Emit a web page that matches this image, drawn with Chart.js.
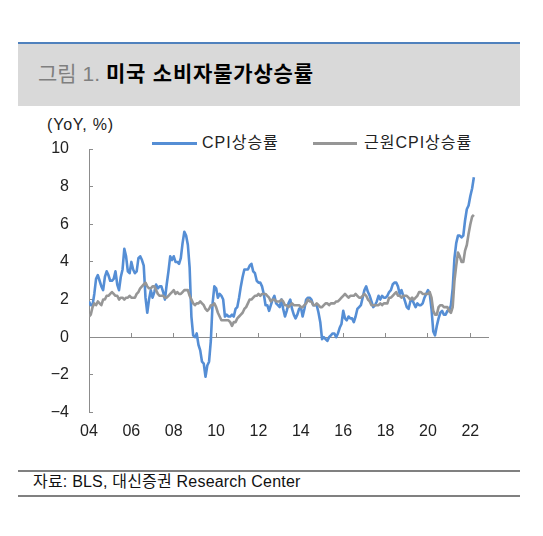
<!DOCTYPE html>
<html lang="ko">
<head>
<meta charset="utf-8">
<title>미국 소비자물가상승률</title>
<script src="https://cdn.jsdelivr.net/npm/chart.js@4.4.1/dist/chart.umd.min.js"></script>
<style>
  body { margin: 0; background: #fff; font-family: 'Liberation Sans', 'Noto Sans CJK KR', sans-serif; }
  .page { position: relative; width: 543px; height: 536px; overflow: hidden; }
  .topline { position: absolute; left: 18px; top: 42px; width: 502px; height: 2px; background: #4f81bd; }
  .band { position: absolute; left: 18px; top: 44px; width: 502px; height: 62px; background: #d9d9d9; }
  .title { position: absolute; left: 38px; top: 60px; font-size: 21px; line-height: 28px; white-space: nowrap; }
  .title .fig { color: #7f7f7f; }
  .title b { color: #000; margin-left: 6px; letter-spacing: 0.8px; }
  .unit { position: absolute; left: 47px; top: 115px; font-size: 16px; line-height: 20px; color: #222; letter-spacing: 0.8px; }
  .legend { position: absolute; top: 133px; left: 0; font-size: 16px; line-height: 20px; color: #222; }
  .legend span { position: absolute; white-space: nowrap; letter-spacing: 1px; }
  .legend i { position: absolute; height: 3px; top: 9px; }
  .chartbox { position: absolute; left: 0; top: 129px; width: 543px; height: 321px; }
  .srcline { position: absolute; left: 18px; width: 502px; height: 2px; background: #808080; }
  .source { position: absolute; left: 33px; top: 471px; font-size: 16px; line-height: 22px; color: #111; white-space: nowrap; letter-spacing: 0.2px; }
</style>
</head>
<body>
<div class="page">
  <div class="topline"></div>
  <div class="band"></div>
  <div class="title"><span class="fig">그림 1.</span><b>미국 소비자물가상승률</b></div>

  <div class="unit">(YoY, %)</div>
  <div class="legend">
    <i style="left:152px; width:45px; background:#558ed5;"></i>
    <span style="left:202px;">CPI상승률</span>
    <i style="left:313px; width:44px; background:#969696;"></i>
    <span style="left:364px;">근원CPI상승률</span>
  </div>

  <div class="chartbox"><canvas id="cpiChart"></canvas></div>

  <div class="srcline" style="top:470px;"></div>
  <div class="source">자료: BLS, 대신증권 Research Center</div>
  <div class="srcline" style="top:495px;"></div>
</div>

<script>
// 월별 전년동월비 (%), 2004.01 ~ 2022.03
const cpiYoY = [
  1.9, 1.7, 1.7, 2.3, 3.1, 3.3, 3.0, 2.7, 2.5, 3.2, 3.5, 3.3,    // 2004
  3.0, 3.0, 3.1, 3.5, 2.8, 2.5, 3.2, 3.6, 4.7, 4.3, 3.5, 3.4,    // 2005
  4.0, 3.6, 3.4, 3.5, 4.2, 4.3, 4.1, 3.8, 2.1, 1.3, 2.0, 2.5,    // 2006
  2.1, 2.4, 2.8, 2.6, 2.7, 2.7, 2.4, 2.0, 2.8, 3.5, 4.3, 4.1,    // 2007
  4.3, 4.0, 4.0, 3.9, 4.2, 5.0, 5.6, 5.4, 4.9, 3.7, 1.1, 0.1,    // 2008
  0.0, 0.2, -0.4, -0.7, -1.3, -1.4, -2.1, -1.5, -1.3, -0.2, 1.8, 2.7, // 2009
  2.6, 2.1, 2.3, 2.2, 2.0, 1.1, 1.2, 1.1, 1.1, 1.2, 1.1, 1.5,    // 2010
  1.6, 2.1, 2.7, 3.2, 3.6, 3.6, 3.6, 3.8, 3.9, 3.5, 3.4, 3.0,    // 2011
  2.9, 2.9, 2.7, 2.3, 1.7, 1.7, 1.4, 1.7, 2.0, 2.2, 1.8, 1.7,    // 2012
  1.6, 2.0, 1.5, 1.1, 1.4, 1.8, 2.0, 1.5, 1.2, 1.0, 1.2, 1.5,    // 2013
  1.6, 1.1, 1.5, 2.0, 2.1, 2.1, 2.0, 1.7, 1.7, 1.7, 1.3, 0.8,    // 2014
  -0.1, 0.0, -0.1, -0.2, 0.0, 0.1, 0.2, 0.2, 0.0, 0.2, 0.5, 0.7, // 2015
  1.4, 1.0, 0.9, 1.1, 1.0, 1.0, 0.8, 1.1, 1.5, 1.6, 1.7, 2.1,    // 2016
  2.5, 2.7, 2.4, 2.2, 1.9, 1.6, 1.7, 1.9, 2.2, 2.0, 2.2, 2.1,    // 2017
  2.1, 2.2, 2.4, 2.5, 2.8, 2.9, 2.9, 2.7, 2.3, 2.5, 2.2, 1.9,    // 2018
  1.6, 1.5, 1.9, 2.0, 1.8, 1.6, 1.8, 1.7, 1.7, 1.8, 2.1, 2.3,    // 2019
  2.5, 2.3, 1.5, 0.3, 0.1, 0.6, 1.0, 1.3, 1.4, 1.2, 1.2, 1.4,    // 2020
  1.4, 1.7, 2.6, 4.2, 5.0, 5.4, 5.4, 5.3, 5.4, 6.2, 6.8, 7.0,    // 2021
  7.5, 7.9, 8.5                                                  // 2022
];

const coreYoY = [
  1.1, 1.2, 1.6, 1.8, 1.7, 1.9, 1.8, 1.7, 2.0, 2.0, 2.2, 2.2,    // 2004
  2.3, 2.4, 2.3, 2.2, 2.2, 2.0, 2.1, 2.1, 2.0, 2.1, 2.1, 2.2,    // 2005
  2.1, 2.1, 2.1, 2.3, 2.4, 2.6, 2.7, 2.8, 2.9, 2.7, 2.6, 2.6,    // 2006
  2.7, 2.7, 2.5, 2.3, 2.2, 2.2, 2.2, 2.1, 2.1, 2.2, 2.3, 2.4,    // 2007
  2.5, 2.3, 2.4, 2.3, 2.3, 2.4, 2.5, 2.5, 2.5, 2.2, 2.0, 1.8,    // 2008
  1.7, 1.8, 1.8, 1.9, 1.8, 1.7, 1.5, 1.4, 1.5, 1.7, 1.7, 1.8,    // 2009
  1.6, 1.3, 1.1, 0.9, 0.9, 0.9, 0.9, 0.9, 0.8, 0.6, 0.8, 0.8,    // 2010
  1.0, 1.1, 1.2, 1.3, 1.5, 1.6, 1.8, 2.0, 2.0, 2.1, 2.2, 2.2,    // 2011
  2.3, 2.2, 2.3, 2.3, 2.3, 2.2, 2.1, 1.9, 2.0, 2.0, 1.9, 1.9,    // 2012
  1.9, 2.0, 1.9, 1.7, 1.7, 1.6, 1.7, 1.8, 1.7, 1.7, 1.7, 1.7,    // 2013
  1.6, 1.6, 1.7, 1.8, 2.0, 1.9, 1.9, 1.7, 1.7, 1.8, 1.7, 1.6,    // 2014
  1.6, 1.7, 1.8, 1.8, 1.7, 1.8, 1.8, 1.8, 1.9, 1.9, 2.0, 2.1,    // 2015
  2.2, 2.3, 2.2, 2.1, 2.2, 2.2, 2.2, 2.3, 2.2, 2.1, 2.1, 2.2,    // 2016
  2.3, 2.2, 2.0, 1.9, 1.7, 1.7, 1.7, 1.7, 1.7, 1.8, 1.7, 1.8,    // 2017
  1.8, 1.8, 2.1, 2.1, 2.2, 2.3, 2.4, 2.2, 2.2, 2.1, 2.2, 2.2,    // 2018
  2.2, 2.1, 2.0, 2.1, 2.0, 2.1, 2.2, 2.4, 2.4, 2.3, 2.3, 2.3,    // 2019
  2.3, 2.4, 2.1, 1.4, 1.2, 1.2, 1.6, 1.7, 1.7, 1.6, 1.6, 1.6,    // 2020
  1.4, 1.3, 1.6, 3.0, 3.8, 4.5, 4.3, 4.0, 4.0, 4.6, 4.9, 5.5,    // 2021
  6.0, 6.4, 6.5                                                  // 2022
];

// x축: 2004년 1월 = 0, 2년(24개월) 간격 눈금
const yearLabels = ['04', '06', '08', '10', '12', '14', '16', '18', '20', '22'];
const yTicks = [10, 8, 6, 4, 2, 0, -2, -4];

const axisColor = '#8c8c8c';
const tickFont = { family: "'Liberation Sans', 'Noto Sans CJK KR', sans-serif", size: 16 };

// 짝수해 1월에만 눈금
function yearTicks(scale) {
  scale.ticks = yearLabels.map((lab, i) => ({ value: i * 24, label: lab }));
}

const ctx = document.getElementById('cpiChart').getContext('2d');

new Chart(ctx, {
  type: 'line',
  data: {
    datasets: [
      {
        label: '근원CPI상승률',
        data: coreYoY.map((v, i) => ({ x: i, y: v })),
        borderColor: '#969696',
        borderWidth: 2.6,
        order: 0
      },
      {
        label: 'CPI상승률',
        data: cpiYoY.map((v, i) => ({ x: i, y: v })),
        borderColor: '#558ed5',
        borderWidth: 2.6,
        order: 1
      }
    ]
  },
  options: {
    responsive: true,
    maintainAspectRatio: false,
    animation: false,
    layout: { padding: { left: 0, right: 55, top: 20, bottom: 0 } },
    elements: {
      point: { radius: 0 },
      line: { tension: 0, borderJoinStyle: 'round' }
    },
    plugins: {
      legend: { display: false },
      tooltip: { enabled: false }
    },
    scales: {
      x: {
        type: 'linear',
        position: 'bottom',
        min: 0,
        max: 226,
        afterBuildTicks: yearTicks,
        afterFit: s => { s.height = 37.5; },
        grid: { display: false, drawTicks: false },
        border: { display: false },
        ticks: {
          autoSkip: false,
          maxRotation: 0,
          padding: 9,
          color: '#222',
          font: tickFont,
          callback: (v, i) => yearLabels[i]
        }
      },
      // 0선 위에 놓이는 축 (위쪽으로 짧은 눈금)
      x0: {
        type: 'linear',
        axis: 'x',
        position: { y: 0 },
        min: 0,
        max: 226,
        afterBuildTicks: yearTicks,
        grid: { drawOnChartArea: false, drawTicks: true, tickLength: -5, color: axisColor },
        border: { display: true, color: axisColor, width: 1 },
        ticks: { display: false }
      },
      y: {
        min: -4,
        max: 10,
        afterBuildTicks: s => { s.ticks = yTicks.map(v => ({ value: v })); },
        afterFit: s => { s.width = 89; s.paddingTop = 10; s.paddingBottom = 10; },
        grid: { drawOnChartArea: false, drawTicks: true, tickLength: -4, color: axisColor },
        border: { display: true, color: axisColor, width: 1 },
        ticks: {
          padding: 24,
          color: '#222',
          font: tickFont,
          callback: v => v < 0 ? '\u2212' + Math.abs(v) : String(v)
        }
      }
    }
  }
});
</script>
</body>
</html>
